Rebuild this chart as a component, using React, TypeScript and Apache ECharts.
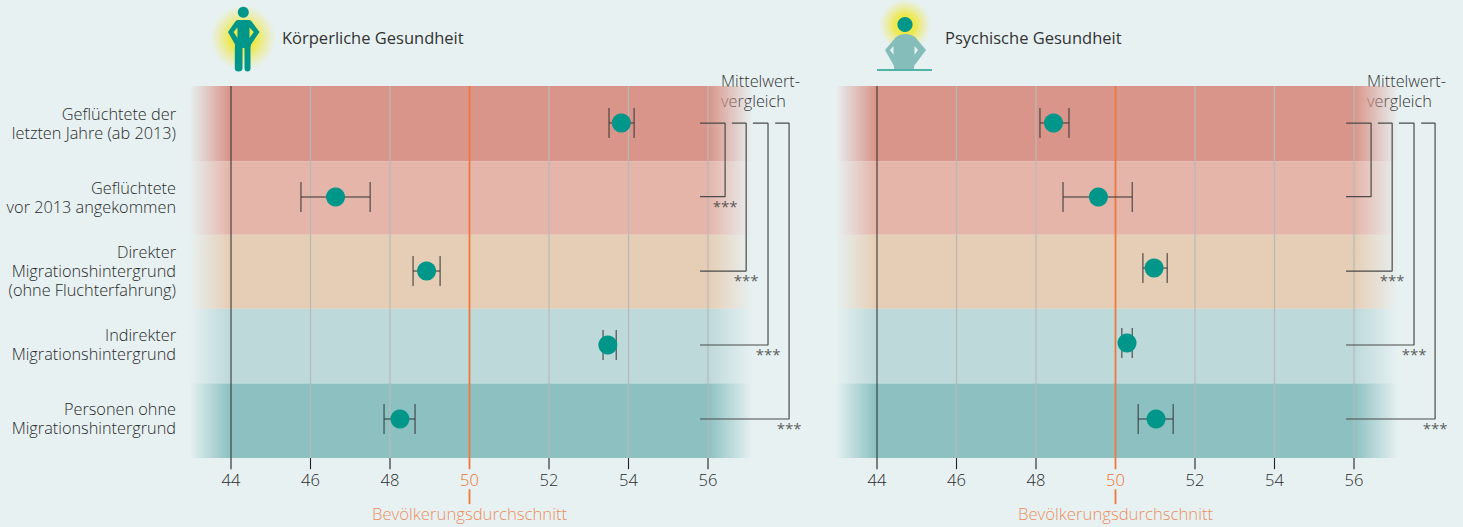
import React, { useEffect, useRef } from "react";
import * as echarts from "echarts";

const FONT = "'Open Sans', 'Noto Sans', sans-serif";
const BG = "#e7f1f2";
const TEAL = "#00968a";
const ORANGE = "#f0783c";

const categories = [
  "Geflüchtete der\nletzten Jahre (ab 2013)",
  "Geflüchtete\nvor 2013 angekommen",
  "Direkter\nMigrationshintergrund\n(ohne Fluchterfahrung)",
  "Indirekter\nMigrationshintergrund",
  "Personen ohne\nMigrationshintergrund",
];
const bandColors = ["217,149,138", "229,181,170", "230,206,182", "190,217,218", "141,193,193"];
const bandEdges = [0, 1.012, 2.0, 2.995, 4.0, 5];
const ticks = [44, 46, 48, 50, 52, 54, 56];

const bodyMean = [53.82, 46.63, 48.92, 53.48, 48.25];
const bodyLow = [53.51, 45.76, 48.58, 53.36, 47.85];
const bodyHigh = [54.14, 47.5, 49.26, 53.69, 48.63];
const bodyRows = [0.497, 1.492, 2.487, 3.481, 4.476];
const bodySignificant = [0, 1, 2, 3];

const mindMean = [48.44, 49.57, 50.97, 50.29, 51.02];
const mindLow = [48.1, 48.68, 50.69, 50.16, 50.57];
const mindHigh = [48.83, 50.42, 51.3, 50.42, 51.45];
const mindRows = [0.497, 1.492, 2.447, 3.454, 4.476];
const mindSignificant = [1, 2, 3];

const bracketTopStart = [55.8, 56.6, 57.13, 57.69];
const bracketRight = [56.43, 56.96, 57.51, 58.04];
const bracketTopRow = 0.5;
const bracketBottomRows = [1.488, 2.487, 3.481, 4.476];
const bracketBottomStart = 55.8;

const BODY_D =
  "M238 20 L249 20 Q251 20 252 22 L259.5 32 L251 44.5 L250.5 48 L250.5 68 Q250.5 71.5 247.5 71.5 Q244.5 71.5 244.5 68 L244.5 48 L242.5 48 L242.5 68 Q242.5 71.5 238.5 71.5 Q234.8 71.5 234.8 68 L234.8 48 L235 44.5 L228 32 L235 22 Q236 20 238 20 Z M249.5 27.5 L249.5 38 L253.8 32 Z M237.5 27.5 L233.5 32 L237.5 38 Z";
const MIND_D =
  "M905 34 Q911 34 915 37 L926 50 L914 66 L914 69 L894 69 L894 66 L885 50 L896 37 Q900 34 905 34 Z M914.5 46 L914.5 55 L918 50 Z M893.5 46 L890 50 L893.5 55 Z";

function segShape(name: string, d: string) {
  echarts.graphic.registerShape(name, (echarts.graphic as any).extendPath(d, {}));
}
segShape("figBody", BODY_D);
segShape("figMind", MIND_D);

const glow = (cx: number, cy: number, r: number) => ({
  type: "circle",
  shape: { cx, cy, r },
  silent: true,
  style: {
    fill: new echarts.graphic.RadialGradient(0.5, 0.5, 0.5, [
      { offset: 0, color: "rgba(238,232,60,1)" },
      { offset: 0.4, color: "rgba(238,232,70,0.95)" },
      { offset: 1, color: "rgba(238,232,120,0)" },
    ]),
  },
});

function segments(name: string, xAxisIndex: number, data: number[][], stroke: string, lineWidth: number, z: number) {
  return {
    type: "custom",
    name,
    xAxisIndex,
    yAxisIndex: xAxisIndex,
    z,
    clip: false,
    silent: true,
    encode: { x: [0, 2], y: [1, 3] },
    data,
    renderItem: (_p: any, api: any) => {
      const a = api.coord([api.value(0), api.value(1)]);
      const b = api.coord([api.value(2), api.value(3)]);
      return { type: "line", shape: { x1: a[0], y1: a[1], x2: b[0], y2: b[1] }, style: { stroke, lineWidth, fill: "none" } };
    },
  };
}

function panelSeries(idx: number, mean: number[], low: number[], high: number[], rows: number[], significant: number[]) {
  const bands = {
    type: "custom",
    name: "bands" + idx,
    xAxisIndex: idx,
    yAxisIndex: idx,
    z: 0,
    clip: false,
    silent: true,
    encode: { x: [0, 2], y: [1, 3] },
    data: bandColors.map((_, i) => [42.95, bandEdges[i], 57.12, bandEdges[i + 1], i]),
    renderItem: (_p: any, api: any) => {
      const a = api.coord([api.value(0), api.value(1)]);
      const b = api.coord([api.value(2), api.value(3)]);
      const c = bandColors[api.value(4)];
      return {
        type: "rect",
        shape: { x: a[0], y: a[1], width: b[0] - a[0], height: b[1] - a[1] },
        style: {
          fill: new echarts.graphic.LinearGradient(0, 0, 1, 0, [
            { offset: 0, color: `rgba(${c},0)` },
            { offset: 0.071, color: `rgba(${c},1)` },
            { offset: 0.922, color: `rgba(${c},1)` },
            { offset: 1, color: `rgba(${c},0)` },
          ]),
        },
      };
    },
  };
  const grey = segments("grid" + idx, idx, ticks.filter((t) => t !== 44 && t !== 50).map((t) => [t, 0, t, 5]), "#b7b9b9", 1.2, 2);
  const tickMarks = segments("ticks" + idx, idx, ticks.filter((t) => t !== 50).map((t) => [t, 5, t, 5.15]), "#222222", 1.1, 7);
  const zero = segments("base" + idx, idx, [[44, 0, 44, 5]], "#2a2a2a", 1, 3);
  const avg = segments("avg" + idx, idx, [[50, 0, 50, 5.15], [50, 5.42, 50, 5.62]], ORANGE, 1.8, 3);

  const avgLabel = {
    type: "scatter",
    name: "avgLabel" + idx,
    xAxisIndex: idx,
    yAxisIndex: idx,
    z: 4,
    clip: false,
    symbolSize: 0,
    silent: true,
    data: [[50, 5.745]],
    label: { show: true, position: "inside", formatter: "Bevölkerungsdurchschnitt", color: "#ee7030", fontFamily: FONT, fontWeight: 300, fontSize: 16.7 },
  };

  const brackets = bracketRight.map((r, i) => ({
    type: "line",
    name: `bracket${idx}-${i}`,
    xAxisIndex: idx,
    yAxisIndex: idx,
    z: 4,
    clip: false,
    silent: true,
    symbol: "none",
    lineStyle: { color: "#4a4a4a", width: 1.2 },
    data: [
      [bracketTopStart[i], bracketTopRow],
      [r, bracketTopRow],
      [r, bracketBottomRows[i]],
      [bracketBottomStart, bracketBottomRows[i]],
    ],
  }));

  const stars = {
    type: "scatter",
    name: "stars" + idx,
    xAxisIndex: idx,
    yAxisIndex: idx,
    z: 5,
    clip: false,
    symbolSize: 0,
    silent: true,
    data: significant.map((i) => [bracketRight[i], bracketBottomRows[i] + 0.125]),
    label: { show: true, position: "inside", formatter: "***", color: "#333", fontFamily: FONT, fontWeight: 400, fontSize: 15 },
  };

  const errors = {
    type: "custom",
    name: "errors" + idx,
    xAxisIndex: idx,
    yAxisIndex: idx,
    z: 5,
    silent: true,
    clip: false,
    encode: { x: [0, 1], y: 2 },
    data: mean.map((_, i) => [low[i], high[i], rows[i]]),
    renderItem: (_p: any, api: any) => {
      const a = api.coord([api.value(0), api.value(2)]);
      const b = api.coord([api.value(1), api.value(2)]);
      const h = 15;
      const style = { stroke: "#333", lineWidth: 1, fill: "none" };
      return {
        type: "group",
        children: [
          { type: "line", shape: { x1: a[0], y1: a[1], x2: b[0], y2: b[1] }, style },
          { type: "line", shape: { x1: a[0], y1: a[1] - h, x2: a[0], y2: a[1] + h }, style },
          { type: "line", shape: { x1: b[0], y1: b[1] - h, x2: b[0], y2: b[1] + h }, style },
        ],
      };
    },
  };

  const dots = {
    type: "scatter",
    name: "means" + idx,
    xAxisIndex: idx,
    yAxisIndex: idx,
    z: 6,
    symbol: "circle",
    symbolSize: 19,
    itemStyle: { color: TEAL, opacity: 1 },
    data: mean.map((m, i) => [m, rows[i]]),
  };
  return [bands, grey, zero, avg, avgLabel, ...brackets, stars, errors, dots, tickMarks];
}

const makeX = (gridIndex: number) => ({
  type: "value",
  gridIndex,
  position: "bottom",
  min: 42,
  max: 58.5,
  interval: 2,
  z: 1,
  axisLine: { show: false, onZero: false },
  splitLine: { show: false },
  axisTick: { show: false },
  axisLabel: {
    show: true,
    customValues: ticks,
    margin: 13,
    formatter: (v: number) => (v === 50 ? `{o|${v}}` : `{d|${v}}`),
    rich: {
      d: { color: "#2a2a2a", fontFamily: FONT, fontWeight: 300, fontSize: 16.5 },
      o: { color: "#ee7030", fontFamily: FONT, fontWeight: 300, fontSize: 16.5 },
    },
  },
});
const makeY = (gridIndex: number) => ({
  type: "value",
  gridIndex,
  min: 0,
  max: 5,
  inverse: true,
  show: false,
  splitLine: { show: false },
});

const titleText = (x: number, y: number, text: string, size = 16.5, lineHeight = 20, weight = 400) => ({
  type: "text",
  x,
  y,
  silent: true,
  style: { text, fill: "#333", fontFamily: FONT, fontWeight: weight, fontSize: size, lineHeight, textVerticalAlign: "top" },
});

export default function App() {
  const ref = useRef<HTMLDivElement>(null);
  useEffect(() => {
    const chart = echarts.init(ref.current!, null, { renderer: "svg" });
    chart.setOption({
      animation: false,
      backgroundColor: BG,
      grid: [
        { left: 151.5, top: 86, width: 655.875, height: 372, containLabel: false },
        { left: 797.5, top: 86, width: 655.875, height: 372, containLabel: false },
        { left: 176, top: 86.6, width: 100, height: 368.75, containLabel: false },
      ],
      xAxis: [makeX(0), makeX(1), { type: "value", gridIndex: 2, show: false, min: 0, max: 1 }],
      yAxis: [
        makeY(0),
        makeY(1),
        {
          type: "category",
          gridIndex: 2,
          inverse: true,
          data: categories,
          position: "left",
          axisLine: { show: false, onZero: false },
          axisTick: { show: false },
          splitLine: { show: false },
          axisLabel: {
            show: true,
            interval: 0,
            margin: 0,
            color: "#2a2a2a",
            fontFamily: FONT,
            fontWeight: 300,
            fontSize: 16.3,
            lineHeight: 19,
            align: "right",
          },
        },
      ],
      graphic: [
        glow(243, 38, 33),
        glow(905, 25, 26),
        { type: "circle", shape: { cx: 243.3, cy: 12.3, r: 5.5 }, style: { fill: TEAL }, silent: true },
        { type: "figBody", style: { fill: TEAL }, silent: true },
        { type: "figMind", style: { fill: "#85bdbb" }, silent: true },
        { type: "circle", shape: { cx: 905, cy: 24.5, r: 7.6 }, style: { fill: TEAL }, silent: true },
        { type: "line", shape: { x1: 877, y1: 70, x2: 932, y2: 70 }, style: { stroke: "#1f9c8f", lineWidth: 1.5 }, silent: true },
        titleText(282, 27, "Körperliche Gesundheit"),
        titleText(945, 27, "Psychische Gesundheit"),
        titleText(721, 71, "Mittelwert-\nvergleich", 16.3, 20, 300),
        titleText(1367, 71, "Mittelwert-\nvergleich", 16.3, 20, 300),
      ],
      series: [
        ...panelSeries(0, bodyMean, bodyLow, bodyHigh, bodyRows, bodySignificant),
        ...panelSeries(1, mindMean, mindLow, mindHigh, mindRows, mindSignificant),
      ],
    } as any);
    return () => chart.dispose();
  }, []);
  return <div ref={ref} style={{ position: "absolute", left: 0, top: 0, width: 1463, height: 527 }} />;
}
